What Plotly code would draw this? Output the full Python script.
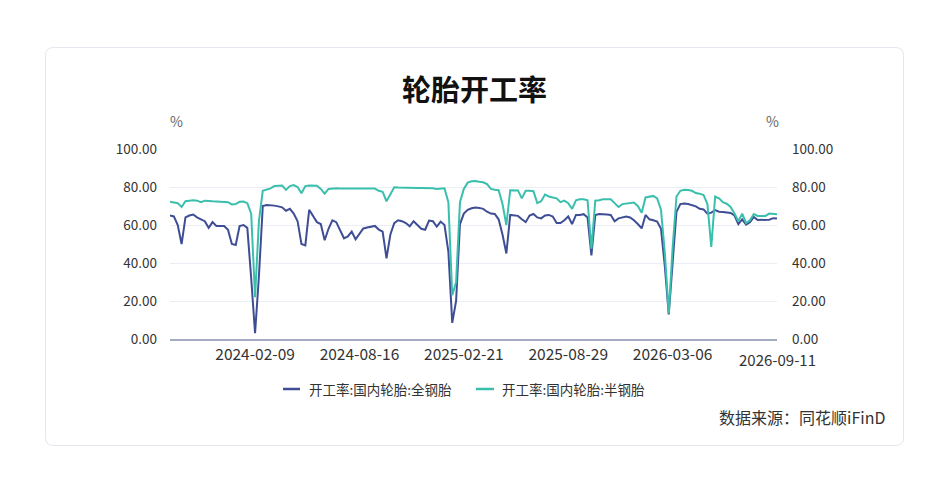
import pandas as pd
import plotly.graph_objects as go

start_date = "2023-09-08"

all_steel = [
    65, 64.5, 60, 50, 64, 65, 65.5, 64, 63, 62,
    58.5, 61.5, 59.5, 59.5, 59.5, 57.5, 50, 49.5, 59.5, 60,
    58.5, 32, 3, 33, 70, 70.5, 70.5, 70.2, 69.8, 69.3,
    67.5, 68.5, 66, 62, 50, 49.3, 68, 65, 61.5, 60.5,
    52, 58, 62.5, 61.5, 57, 53, 54, 56.5, 52.5, 55.5,
    58.2, 58.7, 59, 59.5, 57.6, 56.5, 42.5, 55, 61, 62.5,
    62, 61, 59.3, 62, 60, 58, 57.5, 62.3, 62, 59.2,
    61.8, 60, 46, 8.5, 20, 60.5, 66, 68, 68.8, 69.2,
    69, 68.5, 67, 66, 65.8, 63, 55, 45, 65.3, 65,
    64.8, 63, 61.5, 65, 65.8, 64, 63.5, 65, 65.3, 64.5,
    61, 61, 62.5, 64.5, 60.5, 65.3, 65.3, 65.7, 64, 44,
    65.3, 65.8, 65.8, 65.5, 65.3, 62, 63.5, 63.8, 64.4, 64,
    62.5, 60.5, 58.2, 65.3, 63, 62.5, 61.8, 58, 38, 13,
    42, 67, 71, 71.3, 71, 70.5, 69.8, 68.5, 68.2, 66,
    66.5, 67.8, 67, 66.8, 66.5, 66.3, 65, 60.5, 63, 60.2,
    61.5, 64.2, 62.6, 62.6, 62.6, 62.8, 63.6, 63.4,
]

semi_steel = [
    72.3, 72, 71.5, 69.5, 72.5, 72.8, 73, 72.8, 72, 72.8,
    72.5, 72.5, 72.4, 72.3, 72.2, 72, 70.8, 71, 72.2, 72.3,
    71.5, 66, 22, 62, 78, 78.5, 79.3, 80.5, 80.7, 80.8,
    78.5, 80.5, 81, 80, 76.7, 80.5, 80.8, 80.8, 80.7, 79,
    76.5, 79, 79.3, 79.3, 79.2, 79.2, 79.1, 79.1, 79.0, 79.1,
    79.1, 79.0, 79.1, 79.2, 78, 77.5, 72.5, 76.5, 79.8, 79.7,
    79.6, 79.6, 79.6, 79.5, 79.5, 79.5, 79.5, 79.4, 79.3, 79,
    79.3, 79.3, 72, 23, 30, 72, 79, 82.3, 83, 83.2,
    82.8, 82.5, 81.5, 79, 78.6, 78.3, 71, 60, 78.3, 78.3,
    78.2, 74, 78, 78, 77.8, 71.5, 72.5, 76, 75, 74.5,
    74, 72, 72.8, 71.5, 68.5, 73, 73.5, 73.5, 73, 47.5,
    72.8, 73, 73.5, 73.5, 73.5, 71.5, 69.5, 71, 71.3, 71.5,
    71.8, 70, 66.5, 74.5, 75, 75.3, 74, 68, 45, 13.5,
    48, 75, 78, 78.5, 78.4, 78, 76.8, 76.5, 75.8, 71,
    48.5, 75, 74, 72, 71.2, 69.5, 66, 62, 66, 61,
    62.5, 65.8, 64.8, 64.7, 64.8, 66, 65.6, 65.6,
]

tick_labels = ["2024-02-09", "2024-08-16", "2025-02-21", "2025-08-29", "2026-03-06", "2026-09-11"]
y_ticks = [0, 20, 40, 60, 80, 100]

series_names = ["开工率:国内轮胎:全钢胎", "开工率:国内轮胎:半钢胎"]
title_text = "轮胎开工率"
unit_text = "%"
source_text = "数据来源：同花顺iFinD"

dates = pd.date_range(start=start_date, periods=len(all_steel), freq="7D")

FONT = "Noto Sans CJK SC, Microsoft YaHei, sans-serif"
BLUE = "#3f4e94"
GREEN = "#3bbfad"
COLORS = [BLUE, GREEN]
TXT = "#333333"

# page renders with an 8px body margin; work in page pixels and shift
OFF = 8
W, H = 949 - 2 * OFF, 502 - 2 * OFF
L, R, T, B = 170, 777, 149, 339
pw, ph = R - L, B - T

def px(x):
    return (x - L) / pw

def py(y):
    return (B - y) / ph

fig = go.Figure()
fig.add_trace(go.Scatter(x=dates, y=all_steel, mode="lines", name=series_names[0],
                         line=dict(color=BLUE, width=2), yaxis="y", showlegend=False))
fig.add_trace(go.Scatter(x=dates, y=semi_steel, mode="lines", name=series_names[1],
                         line=dict(color=GREEN, width=2), yaxis="y2", showlegend=False))

# rounded card border
xl, xr, yt, yb = px(45.5), px(903.5), py(47.5), py(445.5)
rx, ry = 8 / pw, 8 / ph
path = (f"M {xl+rx},{yt} L {xr-rx},{yt} Q {xr},{yt} {xr},{yt-ry} "
        f"L {xr},{yb+ry} Q {xr},{yb} {xr-rx},{yb} "
        f"L {xl+rx},{yb} Q {xl},{yb} {xl},{yb+ry} "
        f"L {xl},{yt-ry} Q {xl},{yt} {xl+rx},{yt} Z")

shapes = [dict(type="path", path=path, xref="paper", yref="paper",
               line=dict(color="#e4e6ee", width=1), fillcolor="rgba(0,0,0,0)", layer="below")]

# legend drawn manually (short line symbols like the reference)
leg_y = py(389)
leg_sym = [(283, 300), (476, 494)]
leg_txt_x = [307, 500]
annotations = []
for i, name in enumerate(series_names):
    shapes.append(dict(type="line", xref="paper", yref="paper",
                       x0=px(leg_sym[i][0]), x1=px(leg_sym[i][1]), y0=leg_y, y1=leg_y,
                       line=dict(color=COLORS[i], width=2.5)))
    annotations.append(dict(text=name, x=px(leg_txt_x[i]), y=leg_y, xref="paper", yref="paper",
                            showarrow=False, xanchor="left", yanchor="middle",
                            font=dict(size=13.5, color=TXT)))

# last x tick label placed slightly lower so it clears the right-axis "0.00"
annotations.append(dict(text=tick_labels[-1], x=tick_labels[-1], y=py(359), xref="x", yref="paper",
                        showarrow=False, xanchor="center", yanchor="middle", borderpad=0,
                        font=dict(size=15, color=TXT)))

annotations += [
    dict(text=f"<b>{title_text}</b>", x=px(474), y=py(88), xref="paper", yref="paper",
         showarrow=False, xanchor="center", yanchor="middle",
         font=dict(size=29, color="#111111", family=FONT)),
    dict(text=unit_text, x=px(176), y=py(121), xref="paper", yref="paper",
         showarrow=False, xanchor="center", yanchor="middle",
         font=dict(size=14, color="#666666")),
    dict(text=unit_text, x=px(772), y=py(121), xref="paper", yref="paper",
         showarrow=False, xanchor="center", yanchor="middle",
         font=dict(size=14, color="#666666")),
    dict(text=source_text, x=px(887), y=py(417), xref="paper", yref="paper",
         showarrow=False, xanchor="right", yanchor="middle",
         font=dict(size=16, color=TXT)),
]

fig.update_layout(
    width=W, height=H,
    margin=dict(l=L - OFF, r=(W + OFF) - R, t=T - OFF, b=(H + OFF) - B, pad=0),
    paper_bgcolor="white", plot_bgcolor="white",
    font=dict(family=FONT, color=TXT, size=14),
    showlegend=False,
    shapes=shapes,
    annotations=annotations,
    xaxis=dict(type="date", range=[dates[0], dates[-1]],
               tickvals=tick_labels[:-1], ticktext=tick_labels[:-1], ticks="",
               showgrid=False, zeroline=False, showline=True,
               linecolor="#a4abc2", linewidth=2,
               tickfont=dict(size=15.5, color=TXT), ticklabelstandoff=0),
    yaxis=dict(range=[0, 100], tickvals=y_ticks,
               ticktext=[f"{v:.2f}" for v in y_ticks],
               showgrid=True, gridcolor="#eceef5", gridwidth=1, zeroline=False,
               showline=False, ticks="", tickfont=dict(size=13.5, color=TXT),
               ticklabelstandoff=12),
    yaxis2=dict(range=[0, 100], tickvals=y_ticks,
                ticktext=[f"{v:.2f}" for v in y_ticks],
                overlaying="y", side="right", showgrid=False, zeroline=False,
                showline=False, ticks="", tickfont=dict(size=13.5, color=TXT),
                ticklabelstandoff=14),
)

fig.write_html("out.html")
